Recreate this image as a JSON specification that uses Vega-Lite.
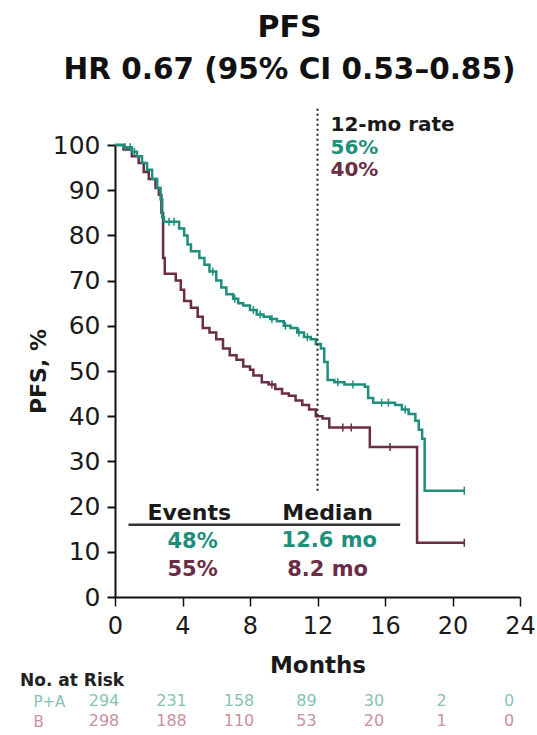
{
  "$schema": "https://vega.github.io/schema/vega-lite/v6.json",
  "background": "white",
  "padding": {"left": 20, "top": 13, "right": 0, "bottom": 0},
  "bounds": "flush",
  "spacing": 94,
  "resolve": {"scale": {"color": "independent"}},
  "config": {
    "font": "DejaVu Sans",
    "view": {"stroke": null},
    "axis": {"labelColor": "#1a1a1a", "titleColor": "#1a1a1a", "domainColor": "#111", "tickColor": "#111", "grid": false}
  },
  "datasets": {
    "curves": [
      {"arm": "B", "month": 0, "pfs": 100}, {"arm": "B", "month": 0.5, "pfs": 99}, {"arm": "B", "month": 1.0, "pfs": 97.5},
      {"arm": "B", "month": 1.4, "pfs": 96}, {"arm": "B", "month": 1.7, "pfs": 94}, {"arm": "B", "month": 2.0, "pfs": 92.5},
      {"arm": "B", "month": 2.4, "pfs": 90.5}, {"arm": "B", "month": 2.6, "pfs": 89}, {"arm": "B", "month": 2.75, "pfs": 85},
      {"arm": "B", "month": 2.85, "pfs": 75}, {"arm": "B", "month": 2.95, "pfs": 71.5}, {"arm": "B", "month": 3.6, "pfs": 70},
      {"arm": "B", "month": 3.9, "pfs": 68}, {"arm": "B", "month": 4.1, "pfs": 65.5}, {"arm": "B", "month": 4.5, "pfs": 64},
      {"arm": "B", "month": 4.9, "pfs": 62}, {"arm": "B", "month": 5.2, "pfs": 59.5}, {"arm": "B", "month": 5.6, "pfs": 58.5},
      {"arm": "B", "month": 6.0, "pfs": 57}, {"arm": "B", "month": 6.4, "pfs": 55}, {"arm": "B", "month": 6.8, "pfs": 53.5},
      {"arm": "B", "month": 7.2, "pfs": 52.5}, {"arm": "B", "month": 7.6, "pfs": 51}, {"arm": "B", "month": 8.0, "pfs": 50.3},
      {"arm": "B", "month": 8.2, "pfs": 49}, {"arm": "B", "month": 8.7, "pfs": 47.5}, {"arm": "B", "month": 9.1, "pfs": 47},
      {"arm": "B", "month": 9.5, "pfs": 46}, {"arm": "B", "month": 9.9, "pfs": 45}, {"arm": "B", "month": 10.3, "pfs": 44.5},
      {"arm": "B", "month": 10.7, "pfs": 43.5}, {"arm": "B", "month": 11.1, "pfs": 42.5}, {"arm": "B", "month": 11.5, "pfs": 41.5},
      {"arm": "B", "month": 11.9, "pfs": 40}, {"arm": "B", "month": 12.3, "pfs": 39.5}, {"arm": "B", "month": 12.7, "pfs": 37.5},
      {"arm": "B", "month": 15.1, "pfs": 33.2}, {"arm": "B", "month": 17.9, "pfs": 12}, {"arm": "B", "month": 20.7, "pfs": 12},
      {"arm": "P+A", "month": 0, "pfs": 100}, {"arm": "P+A", "month": 0.5, "pfs": 99.5}, {"arm": "P+A", "month": 1.0, "pfs": 98.5},
      {"arm": "P+A", "month": 1.3, "pfs": 97.5}, {"arm": "P+A", "month": 1.6, "pfs": 96}, {"arm": "P+A", "month": 1.9, "pfs": 94.5},
      {"arm": "P+A", "month": 2.2, "pfs": 92.5}, {"arm": "P+A", "month": 2.5, "pfs": 90.5}, {"arm": "P+A", "month": 2.7, "pfs": 88},
      {"arm": "P+A", "month": 2.8, "pfs": 84}, {"arm": "P+A", "month": 2.9, "pfs": 83}, {"arm": "P+A", "month": 3.8, "pfs": 81.5},
      {"arm": "P+A", "month": 4.1, "pfs": 80}, {"arm": "P+A", "month": 4.3, "pfs": 78}, {"arm": "P+A", "month": 4.5, "pfs": 76.5},
      {"arm": "P+A", "month": 5.0, "pfs": 75}, {"arm": "P+A", "month": 5.3, "pfs": 73.5}, {"arm": "P+A", "month": 5.6, "pfs": 72},
      {"arm": "P+A", "month": 6.0, "pfs": 70}, {"arm": "P+A", "month": 6.3, "pfs": 68.5}, {"arm": "P+A", "month": 6.6, "pfs": 67},
      {"arm": "P+A", "month": 7.0, "pfs": 66}, {"arm": "P+A", "month": 7.3, "pfs": 65}, {"arm": "P+A", "month": 7.6, "pfs": 64.5},
      {"arm": "P+A", "month": 8.0, "pfs": 63.5}, {"arm": "P+A", "month": 8.4, "pfs": 62.5}, {"arm": "P+A", "month": 8.8, "pfs": 62},
      {"arm": "P+A", "month": 9.2, "pfs": 61.5}, {"arm": "P+A", "month": 9.6, "pfs": 61}, {"arm": "P+A", "month": 10.0, "pfs": 60},
      {"arm": "P+A", "month": 10.4, "pfs": 59.5}, {"arm": "P+A", "month": 10.8, "pfs": 58.5}, {"arm": "P+A", "month": 11.2, "pfs": 57.5},
      {"arm": "P+A", "month": 11.6, "pfs": 57}, {"arm": "P+A", "month": 11.9, "pfs": 56}, {"arm": "P+A", "month": 12.2, "pfs": 55},
      {"arm": "P+A", "month": 12.4, "pfs": 52}, {"arm": "P+A", "month": 12.6, "pfs": 48}, {"arm": "P+A", "month": 13.0, "pfs": 47.5},
      {"arm": "P+A", "month": 13.6, "pfs": 47}, {"arm": "P+A", "month": 14.8, "pfs": 46.5}, {"arm": "P+A", "month": 15.0, "pfs": 44},
      {"arm": "P+A", "month": 15.3, "pfs": 43}, {"arm": "P+A", "month": 16.6, "pfs": 42.5}, {"arm": "P+A", "month": 17.0, "pfs": 41.5},
      {"arm": "P+A", "month": 17.4, "pfs": 40.5}, {"arm": "P+A", "month": 17.8, "pfs": 39}, {"arm": "P+A", "month": 18.0, "pfs": 37},
      {"arm": "P+A", "month": 18.2, "pfs": 35}, {"arm": "P+A", "month": 18.35, "pfs": 23.5}, {"arm": "P+A", "month": 20.7, "pfs": 23.5}
    ],
    "censors": [
      {"arm": "P+A", "month": 0.6, "pfs": 99.5}, {"arm": "P+A", "month": 0.9, "pfs": 99.5}, {"arm": "P+A", "month": 1.15, "pfs": 98.5},
      {"arm": "P+A", "month": 3.2, "pfs": 83}, {"arm": "P+A", "month": 3.5, "pfs": 83}, {"arm": "P+A", "month": 5.8, "pfs": 72},
      {"arm": "P+A", "month": 7.1, "pfs": 66}, {"arm": "P+A", "month": 8.2, "pfs": 63.5}, {"arm": "P+A", "month": 8.6, "pfs": 62.5},
      {"arm": "P+A", "month": 9.3, "pfs": 61.5}, {"arm": "P+A", "month": 10.1, "pfs": 60}, {"arm": "P+A", "month": 10.9, "pfs": 58.5},
      {"arm": "P+A", "month": 11.4, "pfs": 57.5}, {"arm": "P+A", "month": 13.2, "pfs": 47.5}, {"arm": "P+A", "month": 14.1, "pfs": 47},
      {"arm": "P+A", "month": 15.8, "pfs": 43}, {"arm": "P+A", "month": 16.2, "pfs": 43}, {"arm": "P+A", "month": 17.2, "pfs": 41.5},
      {"arm": "P+A", "month": 20.7, "pfs": 23.5},
      {"arm": "B", "month": 9.3, "pfs": 47}, {"arm": "B", "month": 13.5, "pfs": 37.5}, {"arm": "B", "month": 14.0, "pfs": 37.5},
      {"arm": "B", "month": 16.3, "pfs": 33.2}, {"arm": "B", "month": 20.7, "pfs": 12}
    ],
    "risk": [
      {"arm": "P+A", "month": 0, "n": 294}, {"arm": "P+A", "month": 4, "n": 231}, {"arm": "P+A", "month": 8, "n": 158},
      {"arm": "P+A", "month": 12, "n": 89}, {"arm": "P+A", "month": 16, "n": 30}, {"arm": "P+A", "month": 20, "n": 2},
      {"arm": "P+A", "month": 24, "n": 0},
      {"arm": "B", "month": 0, "n": 298}, {"arm": "B", "month": 4, "n": 188}, {"arm": "B", "month": 8, "n": 110},
      {"arm": "B", "month": 12, "n": 53}, {"arm": "B", "month": 16, "n": 20}, {"arm": "B", "month": 20, "n": 1},
      {"arm": "B", "month": 24, "n": 0}
    ]
  },
  "vconcat": [
    {
      "width": 405,
      "height": 452,
      "title": {
        "text": "PFS",
        "subtitle": "HR 0.67 (95% CI 0.53–0.85)",
        "font": "DejaVu Sans",
        "subtitleFont": "DejaVu Sans",
        "fontSize": 30,
        "subtitleFontSize": 29.5,
        "fontWeight": "bold",
        "subtitleFontWeight": "bold",
        "color": "#111",
        "subtitleColor": "#111",
        "anchor": "middle",
        "dx": -28,
        "offset": 23,
        "subtitlePadding": 13
      },
      "layer": [
        {
          "data": {"name": "curves"},
          "mark": {"type": "line", "interpolate": "step-after", "strokeWidth": 2.5},
          "encoding": {
            "x": {
              "field": "month", "type": "quantitative",
              "scale": {"domain": [0, 24], "nice": false},
              "axis": {
                "values": [0, 1, 2, 3, 4, 5, 6, 7, 8, 9, 10, 11, 12, 13, 14, 15, 16, 17, 18, 19, 20, 21, 22, 23, 24],
                "labelExpr": "datum.value % 4 === 0 ? datum.label : ''",
                "tickSize": {"condition": {"test": "datum.value % 4 === 0", "value": 9}, "value": 4},
                "tickWidth": 1.5,
                "domainWidth": 2,
                "labelFontSize": 24,
                "labelPadding": 8,
                "labelOverlap": false,
                "labelFlush": false,
                "title": "Months",
                "titleFontSize": 23,
                "titleFontWeight": "bold",
                "titlePadding": 16
              }
            },
            "y": {
              "field": "pfs", "type": "quantitative",
              "scale": {"domain": [0, 100], "nice": false},
              "axis": {
                "values": [0, 10, 20, 30, 40, 50, 60, 70, 80, 90, 100],
                "tickSize": 8,
                "tickWidth": 2,
                "domainWidth": 2,
                "labelFontSize": 25,
                "labelPadding": 7,
                "title": "PFS, %",
                "titleFontSize": 22,
                "titleFontWeight": "bold",
                "titlePadding": 2
              }
            },
            "color": {
              "field": "arm", "type": "nominal",
              "scale": {"domain": ["P+A", "B"], "range": ["#1f8f7c", "#6b2c46"]},
              "legend": null
            }
          }
        },
        {
          "data": {"name": "censors"},
          "mark": {"type": "point", "shape": "M0,-1L0,1", "filled": false, "size": 64, "strokeWidth": 1.5, "opacity": 1},
          "encoding": {
            "x": {"field": "month", "type": "quantitative"},
            "y": {"field": "pfs", "type": "quantitative"},
            "color": {"field": "arm", "type": "nominal", "legend": null}
          }
        },
        {
          "data": {"values": [{"month": 12, "lo": 23.5, "hi": 108}]},
          "mark": {"type": "rule", "strokeDash": [2, 3], "strokeWidth": 2, "color": "#222"},
          "encoding": {
            "x": {"field": "month", "type": "quantitative"},
            "y": {"field": "lo", "type": "quantitative"},
            "y2": {"field": "hi"}
          }
        },
        {
          "data": {"values": [{"start": 0.8, "end": 16.9, "level": 16}]},
          "mark": {"type": "rule", "strokeWidth": 2.5, "color": "#333"},
          "encoding": {
            "x": {"field": "start", "type": "quantitative"},
            "x2": {"field": "end"},
            "y": {"field": "level", "type": "quantitative"}
          }
        },
        {
          "data": {"values": [{"label": "12-mo rate", "month": 12, "pfs": 104.4}]},
          "mark": {"type": "text", "align": "left", "baseline": "middle", "dx": 13, "fontSize": 20, "fontWeight": "bold", "color": "#1a1a1a"},
          "encoding": {
            "x": {"field": "month", "type": "quantitative"},
            "y": {"field": "pfs", "type": "quantitative"},
            "text": {"field": "label"}
          }
        },
        {
          "data": {"values": [
            {"label": "56%", "arm": "P+A", "month": 12, "pfs": 99.3},
            {"label": "40%", "arm": "B", "month": 12, "pfs": 94.5}
          ]},
          "mark": {"type": "text", "align": "left", "baseline": "middle", "dx": 13, "fontSize": 20, "fontWeight": "bold"},
          "encoding": {
            "x": {"field": "month", "type": "quantitative"},
            "y": {"field": "pfs", "type": "quantitative"},
            "text": {"field": "label"},
            "color": {"field": "arm", "type": "nominal", "legend": null}
          }
        },
        {
          "data": {"values": [
            {"label": "Events", "month": 4.4, "pfs": 18.6},
            {"label": "Median", "month": 12.6, "pfs": 18.6}
          ]},
          "mark": {"type": "text", "align": "center", "baseline": "middle", "fontSize": 22, "fontWeight": "bold", "color": "#1a1a1a"},
          "encoding": {
            "x": {"field": "month", "type": "quantitative"},
            "y": {"field": "pfs", "type": "quantitative"},
            "text": {"field": "label"}
          }
        },
        {
          "data": {"values": [
            {"label": "48%", "arm": "P+A", "month": 4.6, "pfs": 12.2},
            {"label": "55%", "arm": "B", "month": 4.6, "pfs": 6},
            {"label": "12.6 mo", "arm": "P+A", "month": 12.7, "pfs": 12.4},
            {"label": "8.2 mo", "arm": "B", "month": 12.6, "pfs": 6}
          ]},
          "mark": {"type": "text", "align": "center", "baseline": "middle", "fontSize": 21, "fontWeight": "bold"},
          "encoding": {
            "x": {"field": "month", "type": "quantitative"},
            "y": {"field": "pfs", "type": "quantitative"},
            "text": {"field": "label"},
            "color": {"field": "arm", "type": "nominal", "legend": null}
          }
        }
      ]
    },
    {
      "width": 405,
      "height": 40,
      "title": {"text": "No. at Risk", "anchor": "start", "frame": "bounds", "fontSize": 17, "fontWeight": "bold", "color": "#222", "offset": 1, "dx": -13},
      "data": {"name": "risk"},
      "mark": {"type": "text", "fontSize": 16, "dx": -11, "baseline": "middle"},
      "encoding": {
        "x": {"field": "month", "type": "quantitative", "scale": {"domain": [0, 24], "nice": false}, "axis": null},
        "y": {
          "field": "arm", "type": "nominal", "sort": ["P+A", "B"],
          "scale": {"paddingInner": 0, "paddingOuter": 0},
          "axis": {
            "title": null, "domain": false, "ticks": false,
            "labelAlign": "left", "labelPadding": 82, "labelFontSize": 15,
            "labelColor": {"condition": {"test": "datum.value === 'P+A'", "value": "#86c2b4"}, "value": "#c9909f"}
          }
        },
        "text": {"field": "n", "type": "quantitative"},
        "color": {
          "field": "arm", "type": "nominal",
          "scale": {"domain": ["P+A", "B"], "range": ["#86c2b4", "#c9909f"]},
          "legend": null
        }
      }
    }
  ]
}
